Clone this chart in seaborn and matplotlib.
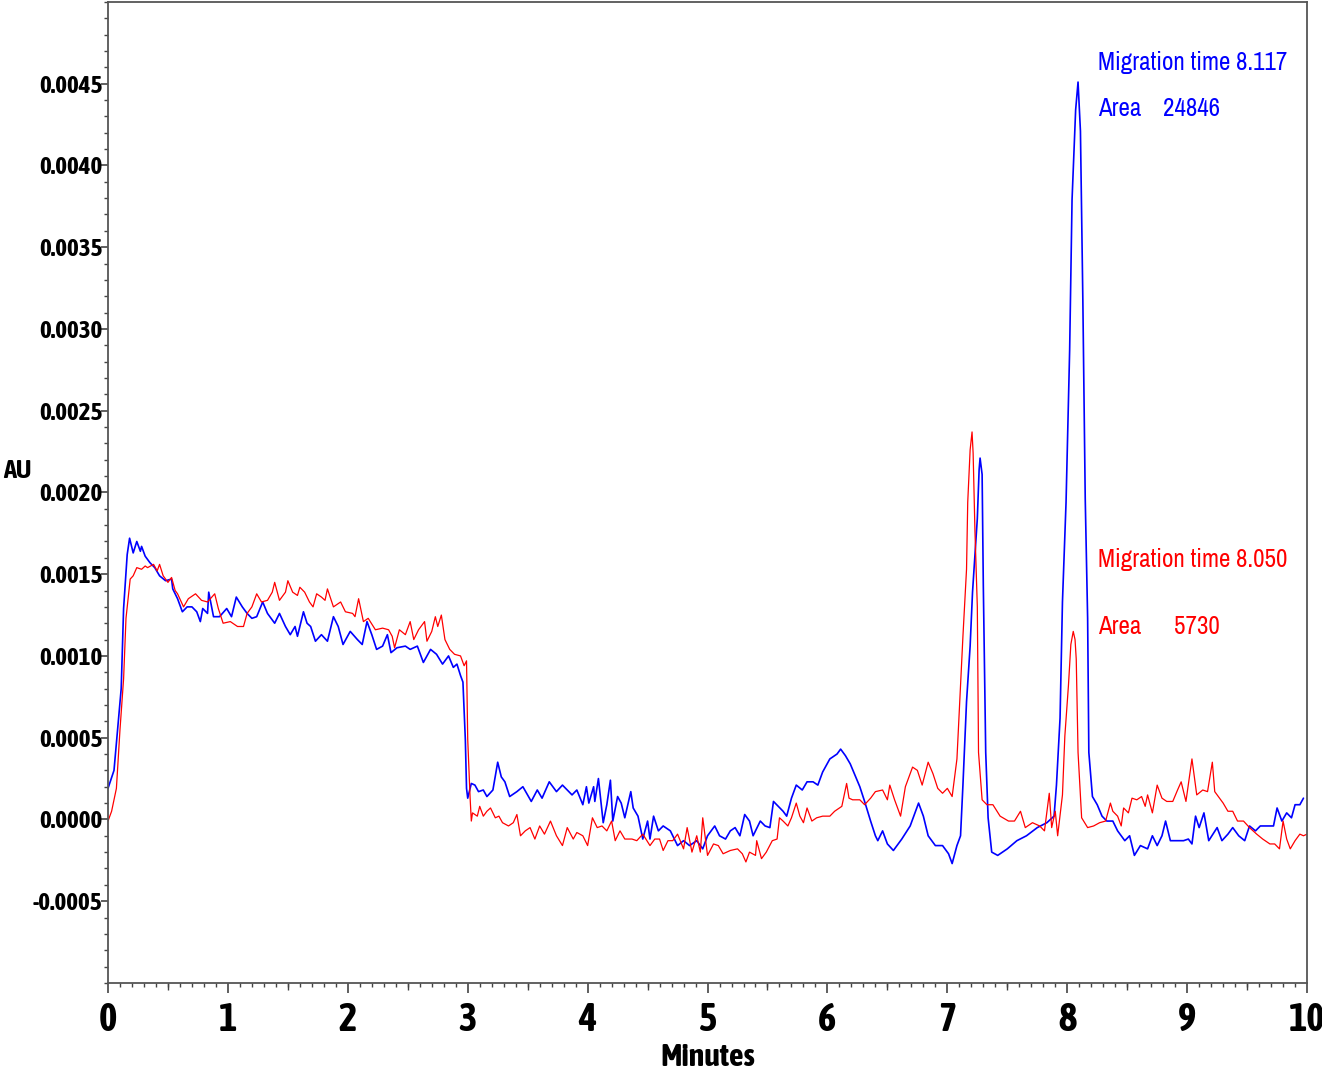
import numpy as np
import pandas as pd
import seaborn as sns
import matplotlib
matplotlib.use("Agg")
import matplotlib.pyplot as plt
import matplotlib.patheffects as pe
from matplotlib import font_manager
from matplotlib.ticker import FixedLocator, MultipleLocator

# electropherogram: time (min) and absorbance (AU)
blue_t = [0.00, 0.05, 0.08, 0.11, 0.13, 0.16, 0.18, 0.21, 0.24, 0.27, 0.28, 0.31, 0.35, 0.39, 0.43, 0.48,
          0.53, 0.54, 0.58, 0.62, 0.66, 0.70, 0.74, 0.77, 0.79, 0.83, 0.84, 0.88, 0.93, 0.99, 1.03, 1.07,
          1.12, 1.16, 1.20, 1.24, 1.29, 1.33, 1.39, 1.43, 1.48, 1.52, 1.56, 1.58, 1.63, 1.66, 1.69, 1.73,
          1.78, 1.83, 1.88, 1.92, 1.96, 2.02, 2.08, 2.12, 2.16, 2.20, 2.24, 2.29, 2.33, 2.36, 2.41, 2.48,
          2.52, 2.58, 2.63, 2.69, 2.74, 2.79, 2.84, 2.88, 2.91, 2.94, 2.96, 2.98, 2.99, 3.00, 3.03, 3.06,
          3.09, 3.13, 3.16, 3.21, 3.25, 3.28, 3.31, 3.35, 3.41, 3.46, 3.53, 3.58, 3.62, 3.68, 3.74, 3.79,
          3.83, 3.87, 3.91, 3.96, 3.99, 4.01, 4.05, 4.06, 4.09, 4.13, 4.16, 4.19, 4.21, 4.25, 4.28, 4.31,
          4.36, 4.38, 4.42, 4.46, 4.50, 4.52, 4.55, 4.59, 4.63, 4.69, 4.75, 4.80, 4.85, 4.91, 4.96, 5.00,
          5.06, 5.10, 5.15, 5.19, 5.23, 5.27, 5.31, 5.35, 5.38, 5.44, 5.48, 5.52, 5.55, 5.59, 5.63, 5.66,
          5.70, 5.74, 5.79, 5.83, 5.88, 5.92, 5.96, 6.02, 6.08, 6.11, 6.15, 6.19, 6.23, 6.27, 6.31, 6.36,
          6.40, 6.42, 6.46, 6.50, 6.55, 6.62, 6.69, 6.76, 6.80, 6.84, 6.90, 6.96, 7.01, 7.04, 7.08, 7.11,
          7.13, 7.16, 7.19, 7.21, 7.25, 7.265, 7.273, 7.29, 7.30, 7.32, 7.34, 7.37, 7.42, 7.50, 7.58, 7.66,
          7.75, 7.83, 7.89, 7.91, 7.94, 7.96, 7.99, 8.02, 8.04, 8.07, 8.09, 8.11, 8.13, 8.15, 8.17, 8.18,
          8.21, 8.25, 8.29, 8.33, 8.38, 8.42, 8.48, 8.52, 8.56, 8.61, 8.67, 8.71, 8.75, 8.79, 8.82, 8.86,
          8.92, 8.97, 9.01, 9.04, 9.07, 9.10, 9.14, 9.18, 9.25, 9.29, 9.34, 9.38, 9.43, 9.48, 9.52, 9.57,
          9.61, 9.67, 9.72, 9.75, 9.79, 9.83, 9.87, 9.90, 9.94, 9.97]
blue_au = [0.00019, 0.00030, 0.00055, 0.00080, 0.00129, 0.00162, 0.00172, 0.00163, 0.00170, 0.00164, 0.00167,
           0.00161, 0.00157, 0.00154, 0.00149, 0.00146, 0.00147, 0.00141, 0.00135, 0.00127, 0.00130, 0.00130,
           0.00127, 0.00121, 0.00129, 0.00126, 0.00139, 0.00124, 0.00124, 0.00129, 0.00124, 0.00136, 0.00130,
           0.00126, 0.00123, 0.00124, 0.00133, 0.00126, 0.00120, 0.00126, 0.00118, 0.00113, 0.00118, 0.00112,
           0.00127, 0.00120, 0.00118, 0.00109, 0.00113, 0.00109, 0.00124, 0.00118, 0.00107, 0.00115, 0.00110,
           0.00107, 0.00121, 0.00113, 0.00104, 0.00106, 0.00113, 0.00102, 0.00105, 0.00106, 0.00104, 0.00106,
           0.00096, 0.00104, 0.00101, 0.00095, 0.00100, 0.00093, 0.00095, 0.00088, 0.00084, 0.00049, 0.00019,
           0.00013, 0.00022, 0.00021, 0.00017, 0.00018, 0.00014, 0.00018, 0.00035, 0.00026, 0.00023, 0.00014,
           0.00017, 0.00020, 0.00011, 0.00018, 0.00013, 0.00023, 0.00017, 0.00021, 0.00018, 0.00015, 0.00018,
           0.00009, 0.00020, 0.00010, 0.00020, 0.00011, 0.00025, -0.00002, 0.00009, 0.00024, -0.00001, 0.00014,
           0.00010, 0.00001, 0.00017, 0.00007, 0.00002, -0.00012, -0.00001, -0.00012, 0.00002, -0.00007, -0.00004,
           -0.00007, -0.00016, -0.00013, -0.00016, -0.00013, -0.00018, -0.00010, -0.00004, -0.00010, -0.00012,
           -0.00007, -0.00005, -0.00010, 0.00003, -0.00001, -0.00010, -0.00001, -0.00004, -0.00005, 0.00011,
           0.00008, 0.00005, 0.00002, 0.00013, 0.00021, 0.00018, 0.00023, 0.00023, 0.00021, 0.00029, 0.00037,
           0.00040, 0.00043, 0.00039, 0.00034, 0.00027, 0.00020, 0.00011, -0.00001, -0.00010, -0.00013, -0.00007,
           -0.00015, -0.00019, -0.00012, -0.00004, 0.00010, 0.00002, -0.00010, -0.00016, -0.00016, -0.00021,
           -0.00027, -0.00016, -0.00010, 0.00021, 0.00072, 0.00106, 0.00139, 0.00184, 0.00214, 0.00221, 0.00211,
           0.00143, 0.00041, 0.00001, -0.00020, -0.00022, -0.00018, -0.00013, -0.00010, -0.00005, -0.00002,
           0.00002, 0.00021, 0.00062, 0.00133, 0.00194, 0.00287, 0.00379, 0.00434, 0.00451, 0.00421, 0.00318,
           0.00196, 0.00123, 0.00041, 0.00014, 0.00009, 0.00002, -0.00001, -0.00001, -0.00007, -0.00013, -0.00010,
           -0.00022, -0.00016, -0.00018, -0.00010, -0.00016, -0.00010, -0.00001, -0.00013, -0.00013, -0.00013,
           -0.00012, -0.00015, 0.00002, -0.00005, 0.00004, -0.00013, -0.00005, -0.00013, -0.00009, -0.00005,
           -0.00010, -0.00013, -0.00004, -0.00007, -0.00004, -0.00004, -0.00004, 0.00007, -0.00001, 0.00004,
           0.00001, 0.00009, 0.00009, 0.00013]

red_t = [0.00, 0.03, 0.07, 0.10, 0.13, 0.15, 0.18, 0.185, 0.21, 0.24, 0.28, 0.31, 0.33, 0.38, 0.41, 0.43,
         0.46, 0.50, 0.53, 0.56, 0.58, 0.63, 0.67, 0.73, 0.78, 0.83, 0.89, 0.92, 0.96, 1.02, 1.08, 1.13,
         1.16, 1.20, 1.24, 1.28, 1.33, 1.37, 1.39, 1.43, 1.48, 1.50, 1.54, 1.58, 1.60, 1.64, 1.68, 1.71,
         1.74, 1.78, 1.81, 1.83, 1.88, 1.94, 1.98, 2.04, 2.06, 2.09, 2.13, 2.17, 2.23, 2.29, 2.34, 2.37,
         2.39, 2.43, 2.48, 2.52, 2.55, 2.59, 2.64, 2.66, 2.70, 2.73, 2.75, 2.78, 2.81, 2.85, 2.89, 2.94,
         2.97, 2.99, 3.00, 3.02, 3.03, 3.04, 3.08, 3.10, 3.13, 3.16, 3.19, 3.23, 3.26, 3.29, 3.34, 3.38,
         3.41, 3.44, 3.48, 3.52, 3.56, 3.60, 3.64, 3.69, 3.74, 3.79, 3.83, 3.88, 3.91, 3.96, 4.00, 4.04,
         4.08, 4.12, 4.16, 4.20, 4.23, 4.27, 4.31, 4.37, 4.41, 4.46, 4.52, 4.56, 4.60, 4.63, 4.67, 4.71,
         4.75, 4.80, 4.83, 4.87, 4.91, 4.94, 4.96, 5.00, 5.05, 5.09, 5.13, 5.19, 5.25, 5.29, 5.32, 5.35,
         5.40, 5.41, 5.45, 5.49, 5.54, 5.58, 5.60, 5.63, 5.67, 5.70, 5.74, 5.77, 5.80, 5.83, 5.87, 5.91,
         5.96, 6.02, 6.06, 6.12, 6.16, 6.18, 6.21, 6.27, 6.31, 6.36, 6.40, 6.46, 6.50, 6.52, 6.56, 6.61,
         6.65, 6.71, 6.75, 6.79, 6.84, 6.88, 6.92, 6.96, 7.00, 7.04, 7.08, 7.11, 7.13, 7.16, 7.17, 7.19,
         7.206, 7.215, 7.23, 7.25, 7.26, 7.29, 7.33, 7.38, 7.44, 7.51, 7.56, 7.61, 7.65, 7.71, 7.77, 7.81,
         7.85, 7.87, 7.90, 7.92, 7.96, 7.98, 8.01, 8.03, 8.05, 8.065, 8.075, 8.09, 8.12, 8.17, 8.22, 8.27,
         8.32, 8.36, 8.38, 8.42, 8.45, 8.47, 8.51, 8.54, 8.58, 8.62, 8.65, 8.67, 8.71, 8.75, 8.79, 8.83,
         8.88, 8.92, 8.95, 8.99, 9.04, 9.08, 9.13, 9.17, 9.21, 9.23, 9.30, 9.34, 9.38, 9.42, 9.47, 9.52,
         9.58, 9.63, 9.69, 9.73, 9.77, 9.80, 9.83, 9.86, 9.90, 9.94, 9.97, 10.00]
red_au = [-0.00001, 0.00005, 0.00019, 0.00055, 0.00086, 0.00123, 0.00144, 0.00147, 0.00149, 0.00154, 0.00153,
          0.00155, 0.00154, 0.00156, 0.00152, 0.00156, 0.00149, 0.00145, 0.00148, 0.00140, 0.00138, 0.00130,
          0.00135, 0.00138, 0.00134, 0.00133, 0.00138, 0.00129, 0.00120, 0.00121, 0.00118, 0.00118, 0.00126,
          0.00130, 0.00138, 0.00133, 0.00134, 0.00139, 0.00145, 0.00134, 0.00139, 0.00146, 0.00139, 0.00137,
          0.00142, 0.00139, 0.00133, 0.00130, 0.00138, 0.00136, 0.00134, 0.00141, 0.00130, 0.00133, 0.00127,
          0.00126, 0.00124, 0.00135, 0.00121, 0.00123, 0.00116, 0.00117, 0.00116, 0.00112, 0.00105, 0.00116,
          0.00113, 0.00121, 0.00110, 0.00116, 0.00121, 0.00109, 0.00115, 0.00124, 0.00118, 0.00125, 0.00110,
          0.00104, 0.00101, 0.00100, 0.00094, 0.00097, 0.00049, 0.00013, -0.00001, 0.00004, 0.00002, 0.00008,
          0.00002, 0.00005, 0.00007, 0.00001, 0.00002, -0.00002, -0.00004, -0.00002, 0.00003, -0.00010, -0.00007,
          -0.00005, -0.00012, -0.00004, -0.00009, -0.00001, -0.00010, -0.00016, -0.00005, -0.00012, -0.00008,
          -0.00010, -0.00016, 0.00001, -0.00005, -0.00004, -0.00007, -0.00001, -0.00013, -0.00007, -0.00012,
          -0.00012, -0.00013, -0.00009, -0.00016, -0.00012, -0.00012, -0.00019, -0.00013, -0.00013, -0.00009,
          -0.00018, -0.00005, -0.00020, -0.00010, -0.00020, 0.00001, -0.00022, -0.00015, -0.00016, -0.00021,
          -0.00019, -0.00018, -0.00021, -0.00026, -0.00020, -0.00022, -0.00013, -0.00024, -0.00020, -0.00013,
          -0.00012, 0.00001, -0.00001, -0.00004, 0.00001, 0.00010, 0.00002, -0.00002, 0.00007, -0.00001,
          0.00001, 0.00002, 0.00002, 0.00005, 0.00008, 0.00022, 0.00013, 0.00012, 0.00012, 0.00009, 0.00013,
          0.00017, 0.00018, 0.00012, 0.00021, 0.00012, 0.00002, 0.00020, 0.00032, 0.00030, 0.00021, 0.00035,
          0.00028, 0.00019, 0.00016, 0.00019, 0.00014, 0.00037, 0.00082, 0.00112, 0.00153, 0.00194, 0.00226,
          0.00237, 0.00224, 0.00177, 0.00130, 0.00041, 0.00012, 0.00009, 0.00009, 0.00002, -0.00001, -0.00001,
          0.00005, -0.00005, -0.00002, -0.00004, -0.00007, 0.00016, -0.00005, 0.00005, -0.00010, 0.00015,
          0.00051, 0.00082, 0.00107, 0.00115, 0.00110, 0.00098, 0.00041, 0.00001, -0.00005, -0.00004, -0.00002,
          -0.00001, 0.00010, 0.00005, 0.00002, -0.00004, 0.00007, 0.00004, 0.00013, 0.00012, 0.00014, 0.00008,
          0.00015, 0.00004, 0.00021, 0.00013, 0.00011, 0.00011, 0.00018, 0.00023, 0.00011, 0.00037, 0.00015,
          0.00018, 0.00017, 0.00035, 0.00017, 0.00010, 0.00005, 0.00005, -0.00001, -0.00001, -0.00005, -0.00009,
          -0.00012, -0.00015, -0.00015, -0.00018, -0.00001, -0.00012, -0.00018, -0.00013, -0.00009, -0.00010,
          -0.00009]

x_ticks = [0, 1, 2, 3, 4, 5, 6, 7, 8, 9, 10]
y_ticks = [-0.0005, 0.0, 0.0005, 0.0010, 0.0015, 0.0020, 0.0025, 0.0030, 0.0035, 0.0040, 0.0045]

blue = pd.DataFrame({"t": blue_t, "au": blue_au})
red = pd.DataFrame({"t": red_t, "au": red_au})

sns.set_style("ticks")


def weight_num(w):
    if isinstance(w, (int, float)):
        return w
    return font_manager.weight_dict.get(w, 400)


# narrow font; a bold cut of a narrow family if there is one
entries = [f for f in font_manager.fontManager.ttflist if "Narrow" in f.name or "Condensed" in f.name]
regular = sorted({f.name for f in entries if 350 <= weight_num(f.weight) <= 500})
bold = sorted({f.name for f in entries if weight_num(f.weight) >= 600})
font = regular[0] if regular else (sorted({f.name for f in entries})[0] if entries else "Liberation Sans")
bold_font = bold[0] if bold else font
thicken = [] if bold else [pe.withStroke(linewidth=1.3, foreground="black")]
plt.rcParams["font.family"] = [font, "DejaVu Sans"]
bold_kw = dict(fontfamily=[bold_font, "DejaVu Sans"], fontweight="bold", color="black", path_effects=thicken)

fig = plt.figure(figsize=(13.22, 10.78), dpi=100)
ax = fig.add_axes([0.0817, 0.0882, 0.9070, 0.9100])

sns.lineplot(data=blue, x="t", y="au", color="#0000ff", lw=1.2, estimator=None, sort=False, ax=ax)
sns.lineplot(data=red, x="t", y="au", color="#ff0000", lw=0.9, estimator=None, sort=False, ax=ax)

ax.set_xlim(0, 10)
ax.set_ylim(-0.001, 0.005)

ax.xaxis.set_major_locator(FixedLocator(x_ticks))
ax.xaxis.set_minor_locator(MultipleLocator(0.1))
ax.yaxis.set_major_locator(FixedLocator(y_ticks))
ax.yaxis.set_minor_locator(MultipleLocator(0.0001))
ax.set_xticklabels([str(v) for v in x_ticks], fontsize=28, **bold_kw)
ax.set_yticklabels([f"{v:.4f}" for v in y_ticks], fontsize=18, **bold_kw)

ax.tick_params(axis="x", which="major", length=7, width=1.2, color="#444444", pad=6)
ax.tick_params(axis="x", which="minor", length=3, width=1.0, color="#444444")
ax.tick_params(axis="y", which="major", length=5, width=1.2, color="#444444", pad=-1)
ax.tick_params(axis="y", which="minor", length=3, width=1.0, color="#444444")

# half-minute ticks are a bit longer
half = ax.secondary_xaxis("bottom")
half.set_xticks([0.5, 1.5, 2.5, 3.5, 4.5, 5.5, 6.5, 7.5, 8.5, 9.5])
half.set_xticklabels([])
half.tick_params(length=5, width=1.0, color="#444444")
half.spines["bottom"].set_visible(False)

for side in ["left", "bottom", "top", "right"]:
    ax.spines[side].set_color("#555555")
    ax.spines[side].set_linewidth(1.3)

ax.set_xlabel("Minutes", fontsize=23, labelpad=2, **bold_kw)
ax.set_ylabel("")
fig.text(0.002, 0.564, "AU", fontsize=19, va="center", ha="left", **bold_kw)

# peak annotations
fs = 18
ax.text(8.257, 0.004628, "Migration time", color="#0000ff", fontsize=fs, va="center")
ax.text(9.41, 0.004628, "8.117", color="#0000ff", fontsize=fs, va="center")
ax.text(8.257, 0.004348, "Area", color="#0000ff", fontsize=fs, va="center")
ax.text(8.80, 0.004348, "24846", color="#0000ff", fontsize=fs, va="center")
ax.text(8.257, 0.001591, "Migration time", color="#ff0000", fontsize=fs, va="center")
ax.text(9.41, 0.001591, "8.050", color="#ff0000", fontsize=fs, va="center")
ax.text(8.257, 0.001177, "Area", color="#ff0000", fontsize=fs, va="center")
ax.text(8.89, 0.001177, "5730", color="#ff0000", fontsize=fs, va="center")

fig.savefig("out.png", dpi=100)
